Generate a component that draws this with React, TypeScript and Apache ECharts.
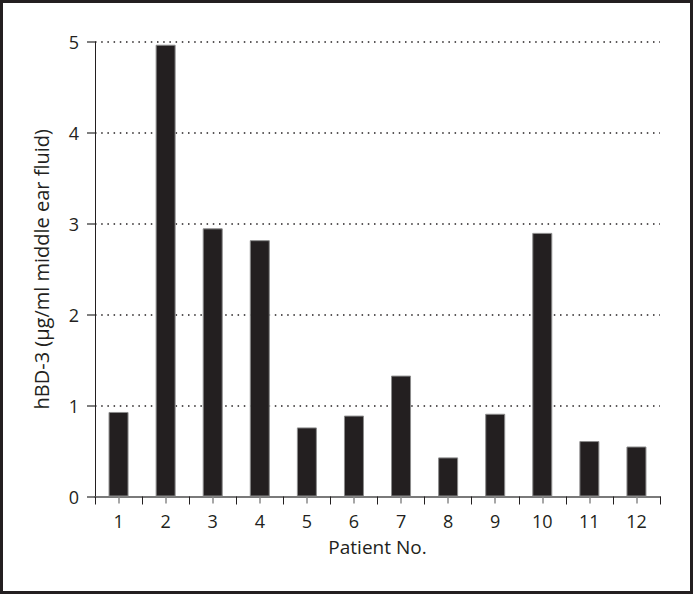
import React, { useEffect, useRef } from "react";
import * as echarts from "echarts";

const categories = ["1", "2", "3", "4", "5", "6", "7", "8", "9", "10", "11", "12"];
const hbd3Values = [0.93, 4.97, 2.95, 2.82, 0.76, 0.89, 1.33, 0.43, 0.91, 2.9, 0.61, 0.55];
const yTicks = [0, 1, 2, 3, 4, 5];

const FONT = "'Open Sans', 'Noto Sans', sans-serif";
const INK = "#231f20";

export default function App() {
  const ref = useRef<HTMLDivElement>(null);
  useEffect(() => {
    if (!ref.current) return;
    const chart = echarts.init(ref.current, null, { renderer: "svg" });
    chart.setOption({
      animation: false,
      backgroundColor: "#ffffff",
      grid: { left: 95, right: 33, top: 42, bottom: 97.5 },
      graphic: [
        {
          type: "rect",
          shape: { x: 1.5, y: 1.5, width: 690, height: 591 },
          style: { fill: "none", stroke: INK, lineWidth: 3 },
          silent: true,
        },
      ],
      xAxis: [
        {
          type: "category",
          data: categories,
          name: "Patient No.",
          nameLocation: "middle",
          nameGap: 41,
          nameTextStyle: { fontFamily: FONT, fontSize: 19, color: INK },
          axisLine: { lineStyle: { color: "#7a7a7a", width: 2 } },
          axisTick: { show: true, alignWithLabel: false, length: 8, lineStyle: { color: INK, width: 1 } },
          axisLabel: { margin: 15, fontFamily: FONT, fontSize: 18, color: INK },
        },
        {
          type: "category",
          data: categories,
          position: "bottom",
          axisLine: { show: false },
          axisTick: { show: true, alignWithLabel: true, length: 7, lineStyle: { color: "#8a8a8a", width: 1.5 } },
          axisLabel: { show: false },
        },
      ],
      yAxis: {
        type: "value",
        min: 0,
        max: 5,
        interval: 1,
        name: "hBD-3 (µg/ml middle ear fluid)",
        nameLocation: "middle",
        nameGap: 44,
        nameTextStyle: { fontFamily: FONT, fontSize: 20, color: INK },
        axisLine: { show: true, lineStyle: { color: INK, width: 1 } },
        axisTick: { show: true, length: 8, lineStyle: { color: "#555555", width: 1.5 } },
        axisLabel: {
          margin: 16,
          fontFamily: FONT,
          fontSize: 18,
          color: INK,
          formatter: (v: number) => (yTicks.includes(v) ? String(v) : ""),
        },
        splitLine: {
          show: true,
          lineStyle: { color: INK, width: 1.5, type: [1.5, 4.7] },
        },
      },
      series: [
        {
          type: "bar",
          data: hbd3Values,
          barWidth: 20,
          itemStyle: { color: INK, borderColor: "#8c8c8c", borderWidth: 1 },
        },
      ],
    });
    return () => chart.dispose();
  }, []);
  return (
    <div
      ref={ref}
      style={{ position: "absolute", left: 0, top: 0, width: 693, height: 594 }}
    />
  );
}
